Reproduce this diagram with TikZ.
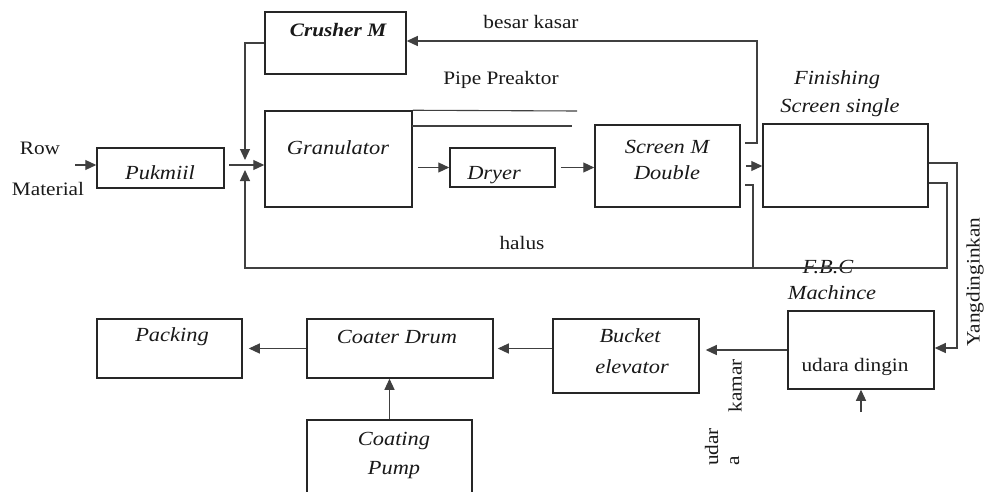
\documentclass[tikz,border=0pt]{standalone}
\usepackage{fontspec}
\setmainfont[FakeStretch=1.12]{Liberation Serif}
\usetikzlibrary{arrows.meta,fit}
\begin{document}
\begin{tikzpicture}[x=1pt,y=-1pt,
  box/.style={draw=black!85, line width=1.5pt, inner sep=0pt, rectangle},
  ln/.style={draw=black!75, line width=1.1pt},
  arr/.style={ln, -{Triangle[length=11pt,width=10pt]}},
  lbl/.style={font=\fontsize{19}{21}\selectfont, inner sep=0pt, text=black!90},
  ilbl/.style={lbl, font=\fontsize{20}{22}\selectfont\itshape},
  rlbl/.style={lbl, rotate=90, align=left}]
\clip (0,0) rectangle (987,492);
\fill[white] (0,0) rectangle (987,492);
% boxes
\node[box, fit={(265,12) (406,74)}] (crusher) {};
\node[box, fit={(265,111) (412,207)}] (gran) {};
\node[box, fit={(97,148) (224,188)}] (puk) {};
\node[box, fit={(450,148) (555,187)}] (dryer) {};
\node[box, fit={(595,125) (740,207)}] (screen) {};
\node[box, fit={(763,124) (928,207)}] (finish) {};
\node[box, fit={(788,311) (934,389)}] (fbc) {};
\node[box, fit={(553,319) (699,393)}] (bucket) {};
\node[box, fit={(307,319) (493,378)}] (coater) {};
\node[box, fit={(97,319) (242,378)}] (packing) {};
\node[box, fit={(307,420) (472,505)}] (pump) {};
% labels
\node[ilbl, font=\fontsize{19}{21}\selectfont\bfseries\itshape] (tcrusher) at (338,30) {Crusher M};
\node[ilbl] (tgran) at (338,148) {Granulator};
\node[ilbl] (tpuk) at (160,173) {Pukmiil};
\node[lbl] (trow) at (40,148) {Row};
\node[lbl] (tmat) at (48,189) {Material};
\node[ilbl] (tdryer) at (494,175) {Dryer};
\node[ilbl] (tscreen1) at (667,147) {Screen M};
\node[ilbl] (tscreen2) at (667,173) {Double};
\node[ilbl] (tfin1) at (837,80) {Finishing};
\node[ilbl] (tfin2) at (840,108) {Screen single};
\node[lbl] (tbesar) at (531,22) {besar kasar};
\node[lbl] (tpipe) at (501,80) {Pipe Preaktor};
\node[lbl] (thalus) at (522,243) {halus};
\node[ilbl] (tfbc1) at (828,267) {F.B.C};
\node[ilbl] (tfbc2) at (832,293) {Machince};
\node[lbl] (tudara) at (855,367) {udara dingin};
\node[ilbl] (tbuck1) at (630,336) {Bucket};
\node[ilbl] (tbuck2) at (632,367) {elevator};
\node[rlbl] (tkamar) at (735,386) {kamar};
\node[rlbl] (tudar) at (722,447) {udar\\a};
\node[rlbl] (tyang) at (975,282) {Yangdinginkan};
\node[ilbl] (tcoater) at (397,337) {Coater Drum};
\node[ilbl] (tpack) at (172,337) {Packing};
\node[ilbl] (tpump1) at (394,441) {Coating};
\node[ilbl] (tpump2) at (394,470) {Pump};
% coordinates
\coordinate (rowin) at (75,165);
\coordinate (pukout) at (229,165);
\coordinate (jtop) at (245,160);
\coordinate (jbot) at (245,170);
\coordinate (bottomL) at (245,268);
\coordinate (halusR) at (753,268);
\coordinate (halusT) at (745,185);
\coordinate (besarT) at (745,143);
\coordinate (besarC) at (757,41);
\coordinate (finR1) at (947,183);
\coordinate (finR1b) at (947,268);
\coordinate (finR2) at (957,163);
\coordinate (finR2b) at (957,348);
\coordinate (airin) at (861,412);
\coordinate (pipeA) at (577,111);
\coordinate (pipeB0) at (412,126);
\coordinate (pipeB) at (572,126);
% connectors
\draw[arr] (rowin) -- (rowin -| puk.west);
\draw[arr] (pukout) -- (pukout -| gran.west);
\draw[arr] (crusher.west) -| (jtop);
\draw[arr] (finish.east |- finR1) -- (finR1) -- (finR1b) -- (bottomL) -- (jbot);
\draw[ln] (halusT) -| (halusR);
\draw[arr] (besarT) -- (besarT -| besarC) -- (besarC) -- (besarC -| crusher.east);
\draw[ln] (gran.north east) -- (pipeA);
\draw[ln] (pipeB0) -- (pipeB);
\draw[arr] ([xshift=5pt]gran.east |- dryer.west) -- (dryer.west);
\draw[arr] ([xshift=5pt]dryer.east) -- (dryer.east -| screen.west);
\draw[arr] ([xshift=5pt]screen.east) -- (screen.east -| finish.west);
\draw[arr] (finish.east |- finR2) -- (finR2) -- (finR2b) -- (finR2b -| fbc.east);
\draw[arr] (airin) -- (fbc.south);
\draw[arr, shorten >=6pt] (fbc.west) -- (fbc.west -| bucket.east);
\draw[arr, shorten >=4pt] (bucket.west |- coater.east) -- (coater.east);
\draw[arr, shorten >=6pt] (coater.west) -- (packing.east);
\draw[arr] (pump.north) -- (pump.north |- coater.south);
\end{tikzpicture}
\end{document}
